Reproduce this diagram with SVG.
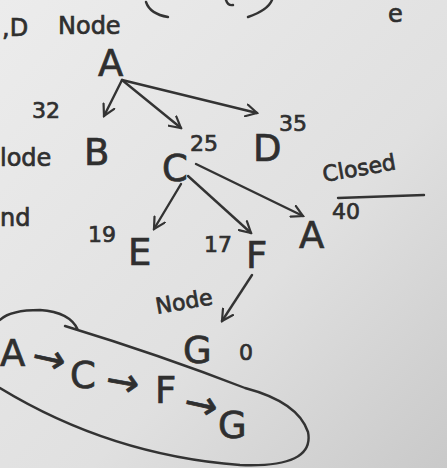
<svg xmlns="http://www.w3.org/2000/svg" width="447" height="468" viewBox="0 0 447 468">
<defs>
<linearGradient id="bg" x1="0" y1="0" x2="1" y2="1">
<stop offset="0" stop-color="#ececec"/>
<stop offset="0.6" stop-color="#e0e0e0"/>
<stop offset="1" stop-color="#c9c9c9"/>
</linearGradient>
<marker id="arr" viewBox="0 0 14 14" refX="12" refY="7" markerWidth="14" markerHeight="14" markerUnits="userSpaceOnUse" orient="auto">
<path d="M1,1 L12,7 L1,13" fill="none" stroke="#333" stroke-width="2.2" stroke-linecap="round"/>
</marker>
</defs>
<style>
text{font-family:"DejaVu Sans","Liberation Sans",sans-serif;fill:#2f2f2f;stroke:#2f2f2f;stroke-width:0.7}
.n{font-size:37px}
.w{font-size:24px}
.s{font-size:22px}
.ar{font-size:40px}
.c{stroke:#333;stroke-width:2.4;fill:none;stroke-linecap:round}
</style>
<rect width="447" height="468" fill="url(#bg)"/>
<g id="fragments">
<path class="c" d="M146,2 Q150,14 168,17"/>
<path class="c" d="M248,17 Q268,10 272,0"/>
<path class="c" d="M226,0 Q228,6 233,5"/>
<text x="388" y="22" class="w">e</text>
<text x="2" y="36" class="w">,D</text>
<text x="58" y="34" class="w">Node</text>
<text x="0" y="166" class="w">lode</text>
<text x="0" y="226" class="w">nd</text>
</g>
<g id="connectors">
<path class="c" d="M122,80 L104,116" marker-end="url(#arr)"/>
<path class="c" d="M122,80 L181,128" marker-end="url(#arr)"/>
<path class="c" d="M122,80 L257,113" marker-end="url(#arr)"/>
<path class="c" d="M181,184 L154,229" marker-end="url(#arr)"/>
<path class="c" d="M188,176 L251,233" marker-end="url(#arr)"/>
<path class="c" d="M196,164 L303,216" marker-end="url(#arr)"/>
<path class="c" d="M252,275 L222,321" marker-end="url(#arr)"/>
</g>
<g id="node-A"><text x="98" y="76" class="n">A</text></g>
<g id="node-B"><text x="84" y="165" class="n">B</text><text x="32" y="118" class="s">32</text></g>
<g id="node-C"><text x="162" y="181" class="n">C</text><text x="190" y="151" class="s">25</text></g>
<g id="node-D"><text x="253" y="161" class="n">D</text><text x="279" y="131" class="s">35</text></g>
<g id="node-A2">
<text x="299" y="248" class="n">A</text>
<text x="332" y="219" class="s">40</text>
<text x="324" y="182" class="s" transform="rotate(-10 324 182)">Closed</text>
<path class="c" d="M338,198 L424,195"/>
</g>
<g id="node-E"><text x="128" y="265" class="n">E</text><text x="88" y="242" class="s">19</text></g>
<g id="node-F"><text x="246" y="268" class="n">F</text><text x="204" y="252" class="s">17</text></g>
<g id="node-G">
<text x="183" y="363" class="n">G</text>
<text x="239" y="360" class="s">0</text>
<text x="157" y="314" class="s" transform="rotate(-10 157 314)">Node</text>
</g>
<g id="path-result">
<path class="c" d="M78,330 Q70,312 40,310 Q10,310 0,320 M0,388 Q110,455 240,465 Q315,468 308,432 Q298,402 245,388 Q160,355 65,326"/>
<text x="0" y="366" class="n">A</text>
<text x="30" y="368" class="ar" transform="rotate(12 30 368)">→</text>
<text x="70" y="388" class="n">C</text>
<text x="104" y="392" class="ar" transform="rotate(10 104 392)">→</text>
<text x="155" y="403" class="n">F</text>
<text x="182" y="414" class="ar" transform="rotate(12 182 414)">→</text>
<text x="218" y="438" class="n">G</text>
</g>
</svg>
